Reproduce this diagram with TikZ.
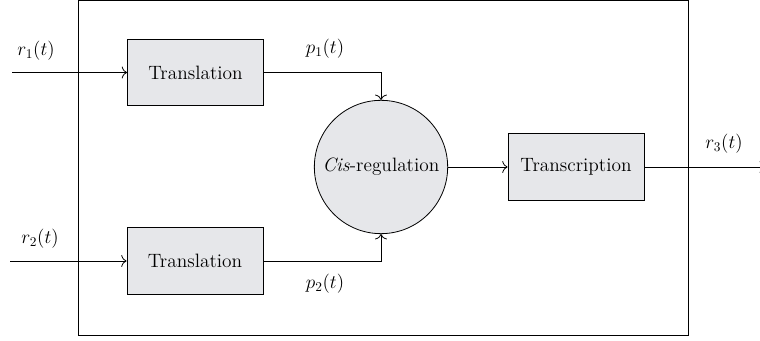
\documentclass[tikz,border=0pt]{standalone}
\usetikzlibrary{shapes.geometric, arrows, arrows.meta}
\definecolor{boxgray}{RGB}{230,231,234}
\tikzset{
  block/.style={draw, fill=boxgray, minimum width=102pt, minimum height=50pt, inner sep=0pt},
  hub/.style={draw, circle, fill=boxgray, minimum size=100pt, inner sep=0pt},
  sig/.style={-{To[length=4pt, width=9pt]}, line width=0.6pt}
}
\begin{document}
\begin{tikzpicture}[x=0.75pt, y=-0.75pt, line width=0.6pt, font=\fontsize{14.5}{17}\selectfont]
    \useasboundingbox (0,0) rectangle (760,341);
    \draw (78,0.5) rectangle (688,335);
    \node[block] (tl1) at (195.5,72.5) {Translation};
    \node[block] (tl2) at (195,261) {Translation};
    \node[hub] (cis) at (381,167) {\textit{Cis}-regulation};
    \node[block] (tc) at (576,167) {Transcription};
    \coordinate (in1) at (12,72.5);
    \coordinate (in2) at (10,261);
    \coordinate (out) at (765,167);
    \node (r1) at (36,51) {$r_1(t)$};
    \node (r2) at (40,239) {$r_2(t)$};
    \node (p1) at (325,49) {$p_1(t)$};
    \node (p2) at (325,284) {$p_2(t)$};
    \node (r3) at (724,144) {$r_3(t)$};
    \draw[sig] (in1) -- (tl1);
    \draw[sig] (in2) -- (tl2);
    \draw[sig] (tl1.east) -| (cis.north);
    \draw[sig] (tl2.east) -| (cis.south);
    \draw[sig] (cis) -- (tc);
    \draw[sig] (tc) -- (out);
\end{tikzpicture}
\end{document}
